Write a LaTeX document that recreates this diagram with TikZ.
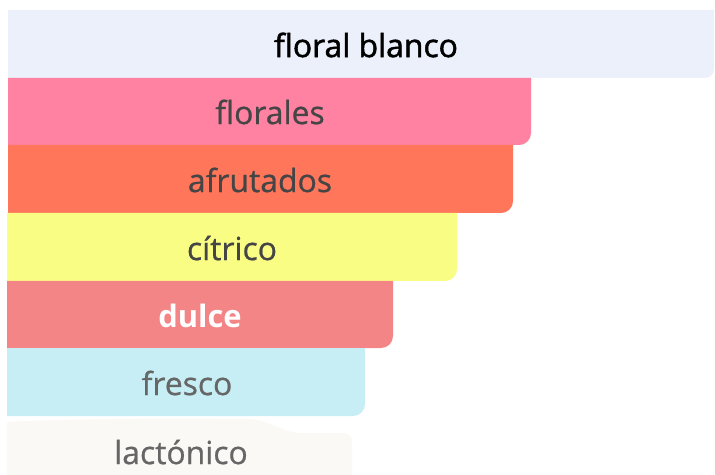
\documentclass[tikz,border=0pt]{standalone}
\usepackage{fontspec}
\setmainfont{Open Sans}
\newfontfamily\regfont{Open Sans}[FakeBold=0.7]
\newfontfamily\semifont{Open Sans}[FakeBold=1.6]
\definecolor{cBlanco}{HTML}{ECF0FA}
\definecolor{cFlorales}{HTML}{FF82A2}
\definecolor{cAfrutados}{HTML}{FF765B}
\definecolor{cCitrico}{HTML}{FAFD84}
\definecolor{cDulce}{HTML}{F38586}
\definecolor{cFresco}{HTML}{C6EEF4}
\definecolor{cLactonico}{HTML}{FAF9F5}
\definecolor{tDark}{HTML}{454545}
\definecolor{tGray}{HTML}{666666}
\tikzset{
  lbl/.style={font=\regfont\fontsize{32}{36}\selectfont, inner sep=0pt, anchor=center},
}
\begin{document}
\begin{tikzpicture}[x=1bp,y=-1bp]
\useasboundingbox (0,0) rectangle (715,475);
% bars
\fill[cBlanco] (8,10) -- (714,10) [rounded corners=9] -- (714,78) [sharp corners] -- (8,78) -- cycle;
\fill[cFlorales] (8,78) -- (531,78) [rounded corners=12] -- (531,145) [sharp corners] -- (8,145) -- cycle;
\fill[cAfrutados] (8,145) -- (513,145) [rounded corners=12] -- (513,213) [sharp corners] -- (8,213) -- cycle;
\fill[cCitrico] (7,213) -- (457,213) [rounded corners=12] -- (457,281) [sharp corners] -- (7,281) -- cycle;
\fill[cDulce] (7,281) -- (393,281) [rounded corners=12] -- (393,348) [sharp corners] -- (7,348) -- cycle;
\fill[cFresco] (7,348) -- (365,348) [rounded corners=12] -- (365,416) [sharp corners] -- (7,416) -- cycle;
\fill[cLactonico] (7,422) .. controls (60,419) and (150,418) .. (250,419)
  .. controls (270,420) and (280,432) .. (300,433)
  [rounded corners=8] -- (352,433) [sharp corners] -- (352,475) -- (7,475) -- cycle;
% labels
\node[lbl, text=black, font=\semifont\fontsize{32}{36}\selectfont] (blanco) at (366,45) {floral blanco};
\node[lbl, text=tDark] (florales) at (270,112) {florales};
\node[lbl, text=tDark] (afrutados) at (260,180) {afrutados};
\node[lbl, text=tDark] (citrico) at (232,248) {cítrico};
\node[lbl, text=white, font=\fontsize{31}{36}\selectfont\bfseries] (dulce) at (200,316) {dulce};
\node[lbl, text=tGray] (fresco) at (187,383) {fresco};
\node[lbl, text=tGray] (lactonico) at (181,452) {lactónico};
\end{tikzpicture}
\end{document}
